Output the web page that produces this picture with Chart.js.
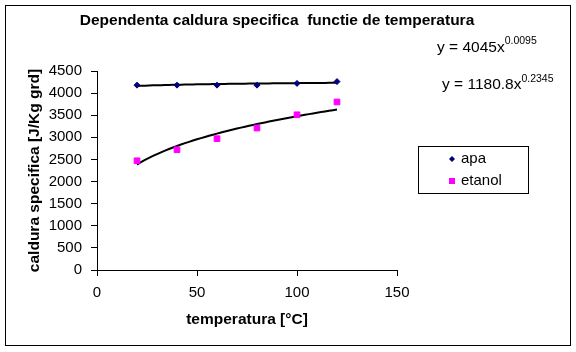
<!DOCTYPE html>
<html>
<head>
<meta charset="utf-8">
<script src="https://cdn.jsdelivr.net/npm/chart.js@4.4.1/dist/chart.umd.min.js"></script>
<style>
  html, body { margin: 0; padding: 0; background: #fff; }
  #chart { display: block; }
</style>
</head>
<body>
<canvas id="chart" width="576" height="352"></canvas>
<script>
'use strict';

// temperatures [°C]
const temperatures = [20, 40, 60, 80, 100, 120];
// specific heat [J/Kg grd]
const apaValues = [4180, 4180, 4180, 4180, 4220, 4260];
const etanolValues = [2470, 2720, 2970, 3210, 3510, 3800];

const xTicks = [0, 50, 100, 150];
const yTicks = [0, 500, 1000, 1500, 2000, 2500, 3000, 3500, 4000, 4500];

// power trendlines shown on the chart: y = a * x^b
const apaFit = { a: 4045, b: 0.0095, label: 'y = 4045x', exp: '0.0095' };
const etanolFit = { a: 1180.8, b: 0.2345, label: 'y = 1180.8x', exp: '0.2345' };

const FONT = "'Liberation Sans', Arial, sans-serif";

function trendPoints(fit) {
    const pts = [];
    const x0 = temperatures[0];
    const x1 = temperatures[temperatures.length - 1];
    for (let x = x0; x <= x1; x += 2) {
        pts.push({ x: x, y: fit.a * Math.pow(x, fit.b) });
    }
    return pts;
}

function toPoints(values) {
    return temperatures.map((t, i) => ({ x: t, y: values[i] }));
}

// title, equations, legend and outer frame
const decorPlugin = {
    id: 'decor',
    afterDraw(chart) {
        const ctx = chart.ctx;
        ctx.save();
        // outer frame
        ctx.strokeStyle = '#000';
        ctx.lineWidth = 1;
        ctx.strokeRect(5.5, 5.5, 565, 340);

        ctx.fillStyle = '#000';
        ctx.textBaseline = 'alphabetic';

        // title
        ctx.font = 'bold 15.5px ' + FONT;
        ctx.textAlign = 'center';
        ctx.fillText('Dependenta caldura specifica  functie de temperatura', 277, 25);

        // trendline equations
        ctx.textAlign = 'left';
        function equation(fit, x, y, supY) {
            ctx.font = '15.5px ' + FONT;
            ctx.fillText(fit.label, x, y);
            const w = ctx.measureText(fit.label).width;
            ctx.font = '10.5px ' + FONT;
            ctx.fillText(fit.exp, x + w, supY);
        }
        equation(apaFit, 437, 52, 44);
        equation(etanolFit, 442, 89, 82);

        // legend
        ctx.strokeRect(418.5, 146.5, 110, 47);
        ctx.fillStyle = '#000080';
        ctx.beginPath();
        ctx.moveTo(452, 156);
        ctx.lineTo(455, 159);
        ctx.lineTo(452, 162);
        ctx.lineTo(449, 159);
        ctx.closePath();
        ctx.fill();
        ctx.fillStyle = '#FF00FF';
        ctx.fillRect(449, 178, 6, 6);
        ctx.fillStyle = '#000';
        ctx.font = '15px ' + FONT;
        ctx.textBaseline = 'middle';
        ctx.fillText('apa', 461, 159);
        ctx.fillText('etanol', 461, 181);
        ctx.restore();
    }
};

const ctx = document.getElementById('chart').getContext('2d');
const chart = new Chart(ctx, {
    type: 'scatter',
    data: {
        datasets: [
            {
                label: 'apa',
                data: toPoints(apaValues),
                pointStyle: 'rectRot',
                pointRadius: 3,
                backgroundColor: '#000080',
                borderColor: '#000080',
                borderWidth: 1
            },
            {
                label: 'etanol',
                data: toPoints(etanolValues),
                pointStyle: 'rect',
                pointRadius: 4,
                backgroundColor: '#FF00FF',
                borderColor: '#FF00FF',
                borderWidth: 1
            },
            {
                label: 'trend apa',
                data: trendPoints(apaFit),
                showLine: true,
                pointRadius: 0,
                borderColor: '#000',
                borderWidth: 2,
                tension: 0
            },
            {
                label: 'trend etanol',
                data: trendPoints(etanolFit),
                showLine: true,
                pointRadius: 0,
                borderColor: '#000',
                borderWidth: 2,
                tension: 0
            }
        ]
    },
    options: {
        responsive: false,
        animation: false,
        devicePixelRatio: 1,
        layout: { padding: { left: 0, right: 179, top: 71, bottom: 0 } },
        plugins: {
            legend: { display: false },
            title: { display: false },
            tooltip: { enabled: false }
        },
        scales: {
            x: {
                type: 'linear',
                min: 0,
                max: 150,
                afterFit(scale) { scale.height = 82; },
                afterBuildTicks(scale) { scale.ticks = xTicks.map((v) => ({ value: v })); },
                grid: { drawOnChartArea: false, drawTicks: true, tickLength: 6, color: '#000' },
                border: { color: '#000', width: 1 },
                ticks: {
                    color: '#000',
                    font: { family: FONT, size: 15 },
                    padding: 8,
                    maxRotation: 0,
                    callback: (v) => String(v)
                },
                title: {
                    display: true,
                    text: 'temperatura [°C]',
                    color: '#000',
                    font: { family: FONT, size: 15.5, weight: 'bold' },
                    padding: { top: 0, bottom: 23 }
                }
            },
            y: {
                type: 'linear',
                min: 0,
                max: 4500,
                afterFit(scale) { scale.width = 97; },
                afterBuildTicks(scale) { scale.ticks = yTicks.map((v) => ({ value: v })); },
                grid: { drawOnChartArea: false, drawTicks: true, tickLength: 6, color: '#000' },
                border: { color: '#000', width: 1 },
                ticks: {
                    color: '#000',
                    font: { family: FONT, size: 15 },
                    padding: 9,
                    callback: (v) => String(v)
                },
                title: {
                    display: true,
                    text: 'caldura specifica [J/Kg grd]',
                    color: '#000',
                    font: { family: FONT, size: 15.5, weight: 'bold' },
                    padding: { top: 25, bottom: 0 }
                }
            }
        }
    },
    plugins: [decorPlugin]
});
</script>
</body>
</html>
